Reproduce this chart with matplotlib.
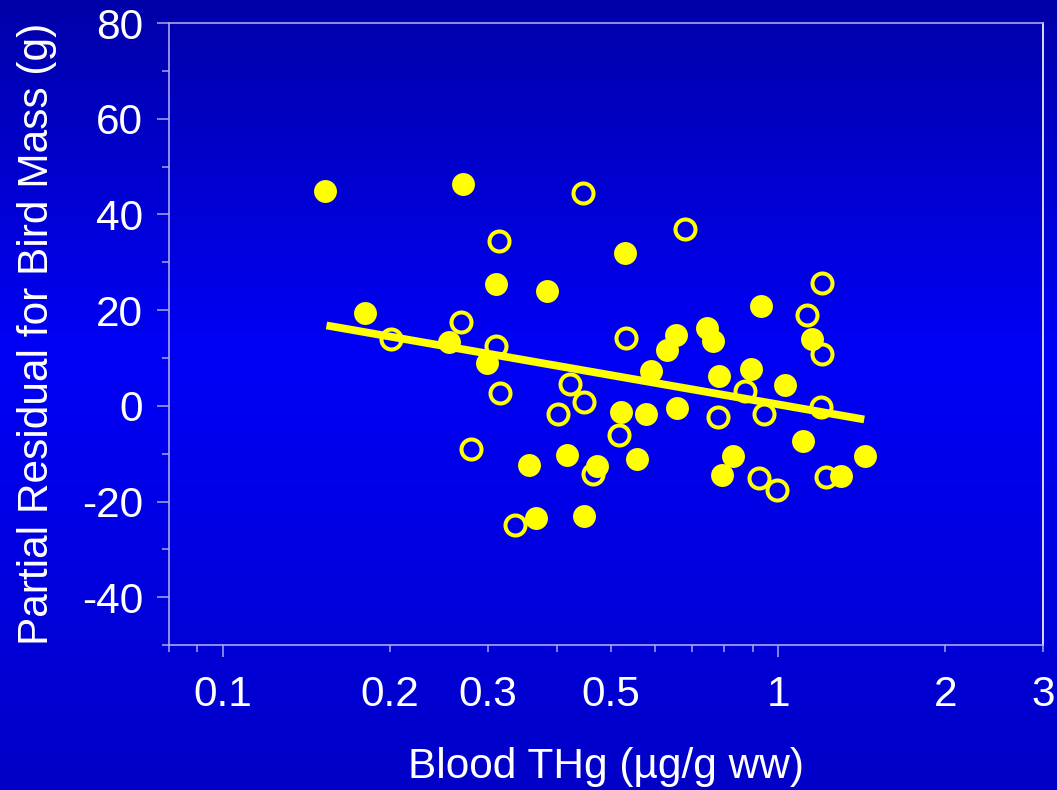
import numpy as np
import matplotlib
matplotlib.use("Agg")
import matplotlib.pyplot as plt
from matplotlib.ticker import FixedLocator, NullFormatter

plt.rcParams["font.family"] = ["Liberation Sans", "DejaVu Sans"]
plt.rcParams["axes.unicode_minus"] = False

# filled circles
filled_x = [0.153, 0.180, 0.271, 0.255, 0.299, 0.310, 0.383, 0.356, 0.367, 0.417,
            0.448, 0.472, 0.530, 0.522, 0.578, 0.557, 0.591, 0.630, 0.655, 0.658,
            0.746, 0.763, 0.782, 0.793, 0.830, 0.893, 0.931, 1.029, 1.108, 1.153,
            1.297, 1.431]
filled_y = [45.0, 19.5, 46.4, 13.3, 9.0, 25.5, 23.9, -12.3, -23.4, -10.3,
            -23.1, -12.5, 32.0, -1.3, -1.8, -11.2, 7.3, 11.6, 14.8, -0.4,
            16.3, 13.5, 6.3, -14.4, -10.5, 7.7, 20.8, 4.4, -7.3, 14.0,
            -14.7, -10.4]

# open circles
open_x = [0.445, 0.314, 0.679, 0.269, 0.201, 0.311, 0.532, 0.316, 0.422, 0.447,
          0.401, 0.518, 0.280, 0.465, 0.336, 1.199, 1.129, 1.202, 0.872, 0.945,
          0.778, 1.194, 0.922, 0.996, 1.219]
open_y = [44.4, 34.5, 37.0, 17.5, 13.9, 12.4, 14.2, 2.7, 4.5, 0.8,
          -1.8, -6.1, -9.1, -14.2, -25.0, 25.7, 18.9, 10.8, 3.1, -1.7,
          -2.4, -0.3, -15.1, -17.6, -14.8]

# regression line end points
fit_x = [0.1537, 1.429]
fit_y = [16.8, -2.85]

x_labels = ["0.1", "0.2", "0.3", "0.5", "1", "2", "3"]
y_ticks = [-40, -20, 0, 20, 40, 60, 80]

fig = plt.figure(figsize=(10.57, 7.9), dpi=100)

# blue gradient background
bg = fig.add_axes([0, 0, 1, 1], zorder=-10)
t = np.linspace(0, 1, 400)
blue = np.interp(t, [0, 0.45, 1], [0.66, 0.97, 0.78])
img = np.zeros((400, 2, 3))
img[:, :, 2] = blue[:, None]
bg.imshow(img, aspect="auto", extent=[0, 1, 0, 1], origin="upper")
bg.set_axis_off()

ax = fig.add_axes([0.1599, 0.1835, 0.8269, 0.7873])
ax.patch.set_alpha(0)

yellow = "#FFFF00"
ax.plot(open_x, open_y, "o", ls="none", ms=14.4, mfc="none", mec=yellow, mew=2.9)
ax.plot(filled_x, filled_y, "o", ls="none", ms=16.5, mfc=yellow, mec=yellow, mew=0)
ax.plot(fit_x, fit_y, color=yellow, lw=5.6, solid_capstyle="butt")

ax.set_xscale("log")
ax.set_xlim(0.08, 3)
ax.set_ylim(-50, 80)

spine_c = "#A8A8F0"
for s in ["left", "bottom", "top"]:
    ax.spines[s].set_color(spine_c)
    ax.spines[s].set_linewidth(1.2)
ax.spines["right"].set_color("white")
ax.spines["right"].set_linewidth(1.2)

# x ticks: long at 0.1 and 1, short elsewhere
fs = 30.5
ax.xaxis.set_major_locator(FixedLocator([0.1, 1]))
ax.set_xticklabels(["0.1", "1"])
minor_vals = [0.08, 0.09, 0.2, 0.3, 0.4, 0.5, 0.6, 0.7, 0.8, 0.9, 2, 3]
minor_txt = ["0.08", "0.09", "0.2", "0.3", "0.4", "0.5", "0.6", "0.7",
             "0.8", "0.9", "2", "3"]
ax.set_xticks(minor_vals, minor=True)
ax.set_xticklabels([v if v in x_labels else "" for v in minor_txt], minor=True)

ax.set_yticks(y_ticks)
ax.set_yticks([-50, -30, -10, 10, 30, 50, 70], minor=True)
ax.yaxis.set_minor_formatter(NullFormatter())

major_len, minor_len = 8.6, 5.0
ax.tick_params(axis="both", which="major", length=major_len, width=1.1,
               color=spine_c, labelcolor="white", labelsize=fs)
ax.tick_params(axis="both", which="minor", length=minor_len, width=1.1,
               color=spine_c, labelcolor="white", labelsize=fs)
ax.tick_params(axis="x", which="major", pad=13)
ax.tick_params(axis="x", which="minor", pad=13 + major_len - minor_len)
ax.tick_params(axis="y", which="major", pad=10)

ax.set_xlabel("Blood THg (\u00b5g/g ww)", color="white", fontsize=fs, labelpad=23)
ax.set_ylabel("Partial Residual for Bird Mass (g)", color="white", fontsize=fs,
              labelpad=18)

fig.savefig("out.png", dpi=100)
